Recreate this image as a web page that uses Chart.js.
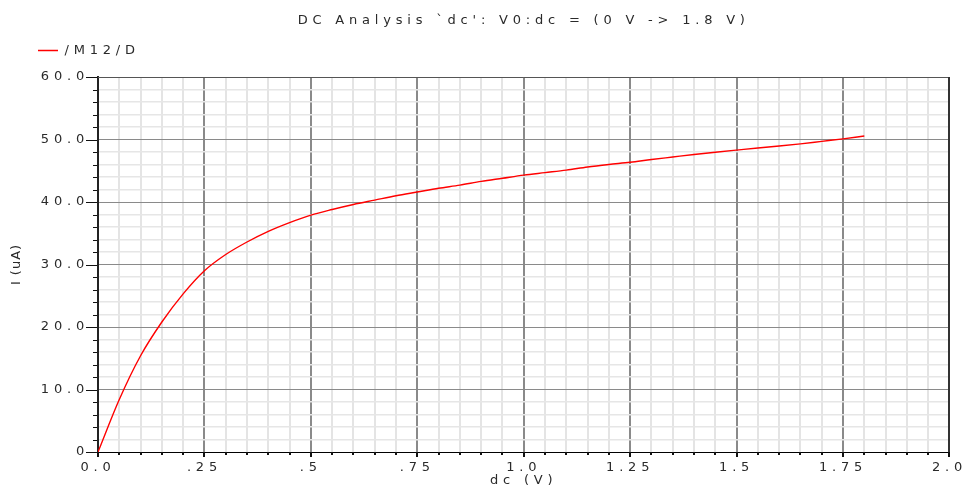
<!DOCTYPE html>
<html><head><meta charset="utf-8">
<style>html,body{margin:0;padding:0;background:#fff;}#wrap{width:975px;height:489px;position:relative;}</style>
<script src="https://cdn.jsdelivr.net/npm/chart.js@4"></script>
</head><body><div id="wrap"><canvas id="c"></canvas></div>
<script>
const chartTitle = "DC Analysis `dc': V0:dc = (0 V -> 1.8 V)";
const seriesName = "/M12/D";
const xAxisTitle = "dc (V)";
const yAxisTitle = "I (uA)";

const dcVolts = [0,0.05,0.10,0.15,0.20,0.25,0.30,0.35,0.40,0.45,0.50,0.55,0.60,0.65,0.70,0.75,0.80,0.85,0.90,0.95,1.00,1.05,1.10,1.15,1.20,1.25,1.30,1.35,1.40,1.45,1.50,1.55,1.60,1.65,1.70,1.75,1.80];
const drainCurrent = [0,8.4,15.4,20.8,25.3,29.0,31.6,33.6,35.3,36.7,37.9,38.8,39.6,40.3,41.0,41.6,42.2,42.7,43.3,43.8,44.3,44.7,45.1,45.6,46.0,46.35,46.8,47.2,47.6,47.95,48.3,48.65,48.95,49.3,49.7,50.1,50.55];

const xMajorValues = [0,0.25,0.5,0.75,1.0,1.25,1.5,1.75,2.0];
const xMajorLabels = ['0.0','.25','.5','.75','1.0','1.25','1.5','1.75','2.0'];
const yMajorValues = [0,10,20,30,40,50,60];
const yMajorLabels = ['0','10.0','20.0','30.0','40.0','50.0','60.0'];
const xMinorStep = 0.05;
const yMinorStep = 2;

const FONT = 'DejaVu Sans';
const TXT = '#2a2a2a';
const LS = '4.8px';

function majorIndex(vals, v){ return vals.findIndex(m => Math.abs(m - v) < 1e-6); }
function buildTicks(min, max, step){
  const n = Math.round((max - min) / step);
  const out = [];
  for (let i = 0; i <= n; i++) out.push({value: +(min + i * step).toFixed(6)});
  return out;
}

const decor = {
  id: 'decor',
  beforeInit(chart){
    Chart.layouts.addBox(chart, {
      id: 'spacer', position: 'top', weight: 0, fullSize: true, options: {},
      top: 0, left: 0, right: 0, bottom: 0, width: 0, height: 0,
      update(maxWidth){ this.width = maxWidth; this.height = 10; },
      isHorizontal(){ return true; },
      getPadding(){ return {top: 0, left: 0, right: 0, bottom: 0}; },
      draw(){}
    });
  },
  beforeUpdate(chart){ chart.ctx.letterSpacing = LS; },
  beforeLayout(chart){ chart.ctx.letterSpacing = LS; },
  beforeDraw(chart){ chart.ctx.letterSpacing = LS; },
  afterDraw(chart){
    const {ctx, chartArea, scales} = chart;
    const {left, right, top, bottom} = chartArea;
    ctx.save();
    ctx.strokeStyle = '#555';
    ctx.lineWidth = 1;
    ctx.beginPath(); ctx.moveTo(left, Math.round(top) + 0.5); ctx.lineTo(right, Math.round(top) + 0.5); ctx.stroke();
    ctx.strokeStyle = '#333';
    ctx.lineWidth = 2;
    ctx.beginPath(); ctx.moveTo(Math.round(right), top); ctx.lineTo(Math.round(right), bottom); ctx.stroke();
    ctx.strokeStyle = '#111';
    scales.x.ticks.forEach(t => {
      const px = Math.round(scales.x.getPixelForValue(t.value));
      const len = majorIndex(xMajorValues, t.value) >= 0 ? 5 : 3;
      ctx.beginPath(); ctx.moveTo(px, bottom); ctx.lineTo(px, bottom + len); ctx.stroke();
    });
    ctx.lineWidth = 1;
    scales.y.ticks.forEach(t => {
      const py = Math.round(scales.y.getPixelForValue(t.value)) + 0.5;
      const len = majorIndex(yMajorValues, t.value) >= 0 ? 12 : 5;
      ctx.beginPath(); ctx.moveTo(left - 1, py); ctx.lineTo(left - len, py); ctx.stroke();
    });
    ctx.letterSpacing = '1px';
    ctx.fillStyle = TXT;
    ctx.font = '13px "' + FONT + '"';
    ctx.translate(17, (top + bottom) / 2);
    ctx.rotate(-Math.PI / 2);
    ctx.textAlign = 'center';
    ctx.textBaseline = 'middle';
    ctx.fillText(yAxisTitle, 0, 0);
    ctx.restore();
  }
};

new Chart(document.getElementById('c'), {
  type: 'line',
  data: {
    labels: dcVolts,
    datasets: [{
      label: seriesName,
      data: dcVolts.map((v, i) => ({x: v, y: drainCurrent[i]})),
      borderColor: '#ff0000',
      backgroundColor: '#ff0000',
      borderWidth: 1.4,
      pointRadius: 0,
      cubicInterpolationMode: 'monotone',
      fill: false
    }]
  },
  options: {
    responsive: true,
    maintainAspectRatio: false,
    animation: false,
    events: [],
    layout: {padding: {left: 26.5, right: 19, top: 1.5, bottom: 0}},
    plugins: {
      title: {
        display: true, text: chartTitle, fullSize: false, align: 'center',
        color: TXT, font: {family: FONT, size: 13, weight: 'normal'},
        padding: {top: 11, bottom: 4.4}
      },
      legend: {
        display: true, position: 'top', align: 'start',
        labels: {
          usePointStyle: true, pointStyle: 'line', pointStyleWidth: 20,
          padding: 11.5, color: TXT, font: {family: FONT, size: 13}
        }
      },
      tooltip: {enabled: false}
    },
    scales: {
      x: {
        type: 'linear', min: 0, max: 2,
        afterBuildTicks(scale){ scale.ticks = buildTicks(0, 2, xMinorStep); },
        afterFit(scale){ scale.height = 37; },
        ticks: {
          autoSkip: false, maxRotation: 0, padding: 8, color: TXT,
          font: {family: FONT, size: 13},
          callback(v){ const k = majorIndex(xMajorValues, v); return k >= 0 ? xMajorLabels[k] : ''; }
        },
        grid: {
          drawTicks: false,
          color(c){ return majorIndex(xMajorValues, c.tick.value) >= 0 ? '#8a8a8a' : '#e4e4e4'; },
          lineWidth: 2
        },
        border: {display: true, color: '#000', width: 1},
        title: {display: true, text: xAxisTitle, color: TXT, font: {family: FONT, size: 13}, padding: {top: 0, bottom: 1}}
      },
      y: {
        type: 'linear', min: 0, max: 60,
        afterBuildTicks(scale){ scale.ticks = buildTicks(0, 60, yMinorStep); },
        afterFit(scale){ scale.width = 71.5; },
        ticks: {
          autoSkip: false, padding: 9, color: TXT,
          font: {family: FONT, size: 13},
          callback(v){ const k = majorIndex(yMajorValues, v); return k >= 0 ? yMajorLabels[k] : ''; }
        },
        grid: {
          drawTicks: false,
          color(c){ return majorIndex(yMajorValues, c.tick.value) >= 0 ? '#8a8a8a' : '#e6e6e6'; },
          lineWidth(c){ return majorIndex(yMajorValues, c.tick.value) >= 0 ? 1 : 1.5; }
        },
        border: {display: true, color: '#222', width: 2}
      }
    }
  },
  plugins: [decor]
});
</script></body></html>
